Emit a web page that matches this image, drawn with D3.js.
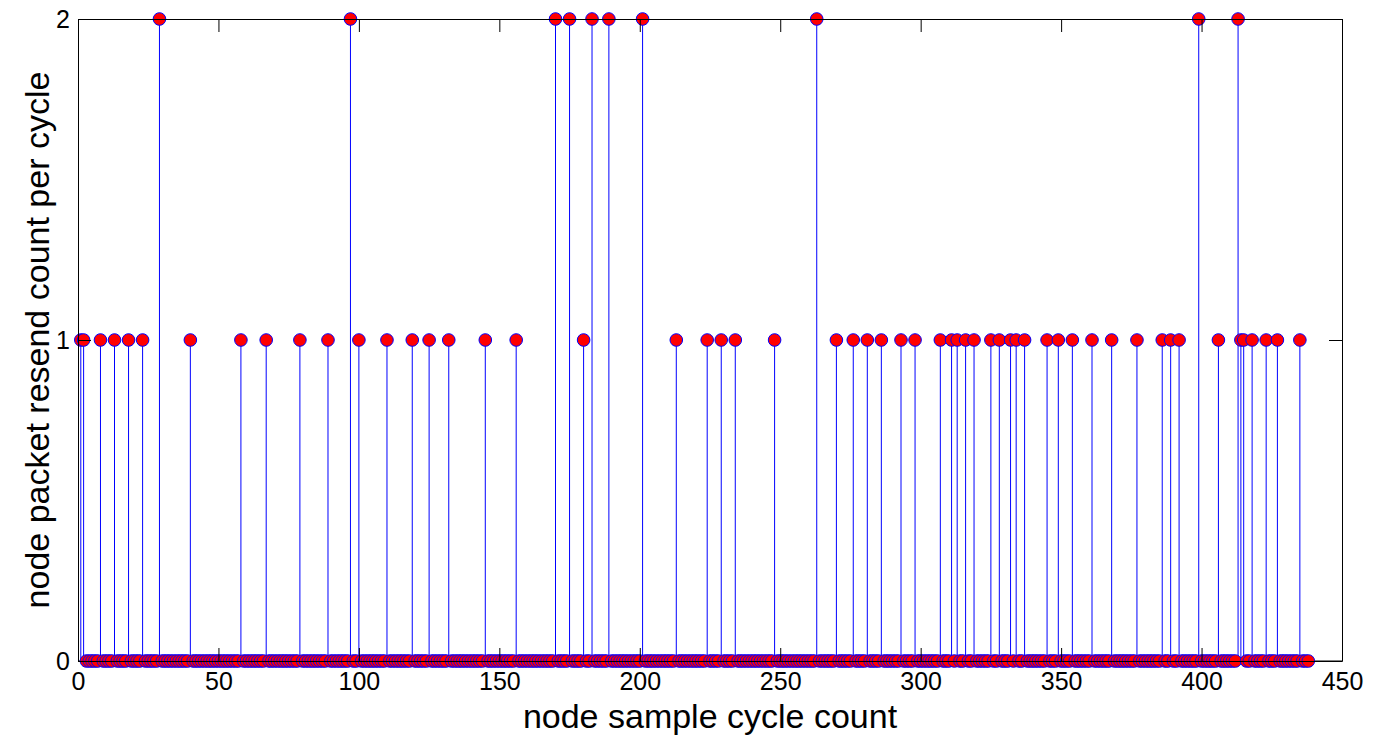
<!DOCTYPE html>
<html>
<head>
<meta charset="utf-8">
<script src="https://cdn.jsdelivr.net/npm/d3@7/dist/d3.min.js"></script>
<style>
    body { margin: 0; background: #fff; }
    text { font-family: 'Liberation Sans', Arial, Helvetica, sans-serif; fill: #000; }
</style>
</head>
<body>
<script>
'use strict';

// samples run 1..SAMPLE_COUNT, every sample not listed below resent 0 packets
var SAMPLE_COUNT = 438;
var resentOnce = [1, 2, 8, 13, 18, 23, 40, 58, 67, 79, 89, 100, 110, 119, 125, 132, 145, 156, 180,
    213, 224, 229, 234, 248, 270, 276, 281, 286, 293, 298, 307, 311, 313, 316, 319, 325, 328, 332,
    334, 337, 345, 349, 354, 361, 368, 377, 386, 389, 392, 406, 414, 415, 418, 423, 427, 435];
var resentTwice = [29, 97, 170, 175, 183, 189, 201, 263, 399, 413];

var xTicks = [0, 50, 100, 150, 200, 250, 300, 350, 400, 450];
var yTicks = [0, 1, 2];
var xLabel = 'node sample cycle count';
var yLabel = 'node packet resend count per cycle';

var W = 1374, H = 738;
var LEFT = 78, RIGHT = 1342, TOP = 19, BOTTOM = 661;
var TICK = 13;

function stemPlot() {
    var data = d3.range(1, SAMPLE_COUNT + 1).map(function (n) {
        var v = 0;
        if (resentOnce.indexOf(n) >= 0) v = 1;
        if (resentTwice.indexOf(n) >= 0) v = 2;
        return { x: n, y: v };
    });

    var x = d3.scaleLinear().domain([0, 450]).range([LEFT, RIGHT]);
    var y = d3.scaleLinear().domain([0, 2]).range([BOTTOM, TOP]);

    var svg = d3.select('body').append('svg').attr('width', W).attr('height', H);

    // stems
    svg.append('g').selectAll('line').data(data.filter(function (d) { return d.y > 0; }))
        .enter().append('line')
        .attr('x1', function (d) { return x(d.x); }).attr('x2', function (d) { return x(d.x); })
        .attr('y1', y(0)).attr('y2', function (d) { return y(d.y); })
        .attr('stroke', '#0000ff').attr('stroke-width', 1);

    // baseline
    svg.append('line').attr('x1', LEFT).attr('x2', RIGHT).attr('y1', y(0)).attr('y2', y(0))
        .attr('stroke', '#000').attr('stroke-width', 1);

    // markers
    svg.append('g').selectAll('circle').data(data).enter().append('circle')
        .attr('cx', function (d) { return x(d.x); })
        .attr('cy', function (d) { return y(d.y); })
        .attr('r', 6.3)
        .attr('fill', '#ff0000').attr('stroke', '#0000ff').attr('stroke-width', 1);

    // axes, ticks pointing inward, box on
    function style(g) {
        g.selectAll('.domain').attr('stroke', '#000').attr('stroke-width', 1);
        g.selectAll('.tick line').attr('stroke', '#000').attr('stroke-width', 1);
        g.selectAll('.tick text').style('font-size', '25px').attr('fill', '#000');
    }

    svg.append('g').attr('transform', 'translate(0,' + BOTTOM + ')')
        .call(d3.axisBottom(x).tickValues(xTicks).tickSizeInner(-TICK).tickSizeOuter(0).tickPadding(11))
        .call(style);
    svg.append('g').attr('transform', 'translate(0,' + TOP + ')')
        .call(d3.axisTop(x).tickValues(xTicks).tickSizeInner(-TICK).tickSizeOuter(0).tickFormat(''))
        .call(style);
    svg.append('g').attr('transform', 'translate(' + LEFT + ',0)')
        .call(d3.axisLeft(y).tickValues(yTicks).tickSizeInner(-TICK).tickSizeOuter(0).tickPadding(8).tickFormat(d3.format('d')))
        .call(style);
    svg.append('g').attr('transform', 'translate(' + RIGHT + ',0)')
        .call(d3.axisRight(y).tickValues(yTicks).tickSizeInner(-TICK).tickSizeOuter(0).tickFormat(''))
        .call(style);

    svg.selectAll('.domain').raise();

    // axis labels
    svg.append('text').attr('x', (LEFT + RIGHT) / 2).attr('y', 728)
        .attr('text-anchor', 'middle').style('font-size', '34px').text(xLabel);
    svg.append('text').attr('transform', 'translate(49,' + (TOP + BOTTOM) / 2 + ') rotate(-90)')
        .attr('text-anchor', 'middle').style('font-size', '34px').text(yLabel);
}

stemPlot();
</script>
</body>
</html>
